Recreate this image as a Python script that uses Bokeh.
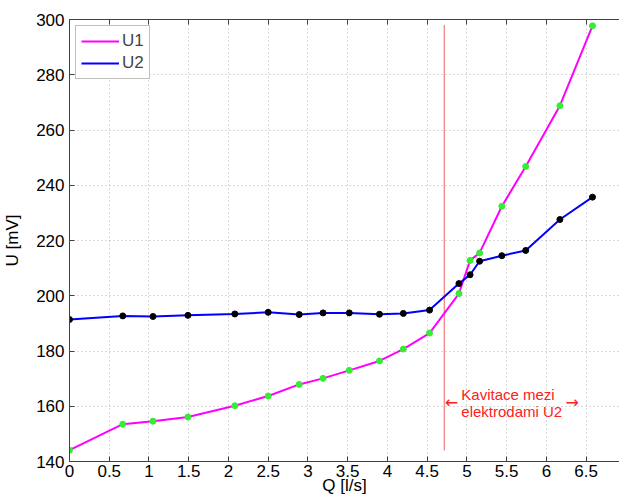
from bokeh.plotting import figure
from bokeh.models import Range1d, FixedTicker, LinearAxis, Legend, LegendItem
from bokeh.core.properties import value
from bokeh.embed import file_html
from bokeh.resources import INLINE

# ---- data ----
Q = [0.0, 0.67, 1.05, 1.49, 2.08, 2.50, 2.89, 3.19, 3.52, 3.90, 4.20, 4.53,
     4.90, 5.04, 5.16, 5.44, 5.74, 6.17, 6.58]
U1 = [144.1, 153.5, 154.6, 156.1, 160.2, 163.7, 167.9, 170.1, 173.0, 176.4,
      180.7, 186.5, 200.8, 212.8, 215.5, 232.4, 246.8, 268.8, 297.7]
U2 = [191.4, 192.7, 192.5, 192.9, 193.4, 194.0, 193.2, 193.8, 193.8, 193.3,
      193.6, 194.8, 204.4, 207.6, 212.5, 214.5, 216.4, 227.6, 235.7]

x_ticks = [0, 0.5, 1, 1.5, 2, 2.5, 3, 3.5, 4, 4.5, 5, 5.5, 6, 6.5]
x_tick_labels = ["0", "0.5", "1", "1.5", "2", "2.5", "3", "3.5", "4", "4.5",
                 "5", "5.5", "6", "6.5"]
y_ticks = [140, 160, 180, 200, 220, 240, 260, 280, 300]

cav_q = 4.715            # cavitation boundary
cav_u = [144, 298]
note_lines = ["Kavitace mezi", "elektrodami U2"]
x_label = "Q [l/s]"
y_label = "U [mV]"

FONT = "Liberation Sans"
AX_COL = "#404040"
X_END = 6.92

p = figure(width=619, height=504, output_backend="svg", toolbar_location=None,
           x_range=Range1d(0, X_END), y_range=Range1d(140, 300),
           min_border_left=67, min_border_right=0, min_border_top=19,
           min_border_bottom=43)
p.outline_line_color = None
p.background_fill_color = "white"

# axes
xa = p.xaxis[0]
xa.ticker = FixedTicker(ticks=x_ticks)
xa.major_label_overrides = {t: l for t, l in zip(x_ticks, x_tick_labels)}
xa.axis_label = x_label
ya = p.yaxis[0]
ya.ticker = FixedTicker(ticks=y_ticks)
ya.axis_label = y_label
for ax in (xa, ya):
    ax.major_tick_in = 5
    ax.major_tick_out = 0
    ax.minor_tick_in = 0
    ax.minor_tick_out = 0
    ax.axis_line_color = AX_COL
    ax.major_tick_line_color = AX_COL
    ax.major_label_text_font = FONT
    ax.major_label_text_font_size = "17px"
    ax.major_label_text_color = "black"
    ax.axis_label_text_font = FONT
    ax.axis_label_text_font_size = "17px"
    ax.axis_label_text_font_style = "normal"
    ax.axis_label_text_color = "black"
xa.major_label_standoff = 3
xa.axis_label_standoff = -4
ya.major_label_standoff = 5
ya.axis_label_standoff = 11

top = LinearAxis(ticker=FixedTicker(ticks=x_ticks), major_tick_in=5, major_tick_out=0,
                 minor_tick_in=0, minor_tick_out=0, axis_line_color=AX_COL,
                 major_tick_line_color=AX_COL, major_label_text_font_size="0px",
                 major_label_standoff=0)
top.major_label_overrides = {t: "" for t in x_ticks}
p.add_layout(top, "above")

# grid
p.xgrid.ticker = FixedTicker(ticks=x_ticks)
p.ygrid.ticker = FixedTicker(ticks=y_ticks)
p.grid.grid_line_color = "#b4b4b4"
p.grid.grid_line_dash = "1 3"
p.grid.grid_line_width = 1

# cavitation line
p.line([cav_q, cav_q], cav_u, line_color="#f06060", line_width=1)

# series
l1 = p.line(Q, U1, line_color="#ff00ff", line_width=2)
p.scatter(Q, U1, size=6, fill_color="#33ee33", line_color="#33ee33")
l2 = p.line(Q, U2, line_color="#0000ff", line_width=2)
p.scatter(Q, U2, size=6, fill_color="black", line_color="black")

# annotation
RED = "#ff2020"
p.text(x=[4.72], y=[161.2], text=["\u2190"], text_color=RED,
       text_font=value("DejaVu Sans"), text_font_size="16px", text_align="left",
       text_baseline="middle")
p.text(x=[6.24], y=[161.2], text=["\u2192"], text_color=RED,
       text_font=value("DejaVu Sans"), text_font_size="16px", text_align="left",
       text_baseline="middle")
p.text(x=[4.93, 4.93], y=[164.4, 158.0], text=note_lines, text_color=RED,
       text_font=value(FONT), text_font_size="15px", text_align="left",
       text_baseline="middle")

legend = Legend(items=[LegendItem(label="U1", renderers=[l1]),
                       LegendItem(label="U2", renderers=[l2])],
                location="top_left")
legend.label_text_font = FONT
legend.label_text_font_size = "17px"
legend.glyph_width = 38
legend.glyph_height = 20
legend.label_height = 20
legend.label_standoff = 3
legend.spacing = 2
legend.padding = 5
legend.margin = 6
legend.border_line_color = "#808080"
legend.background_fill_alpha = 1
p.add_layout(legend)

open("out.html", "w").write(file_html(p, INLINE))
